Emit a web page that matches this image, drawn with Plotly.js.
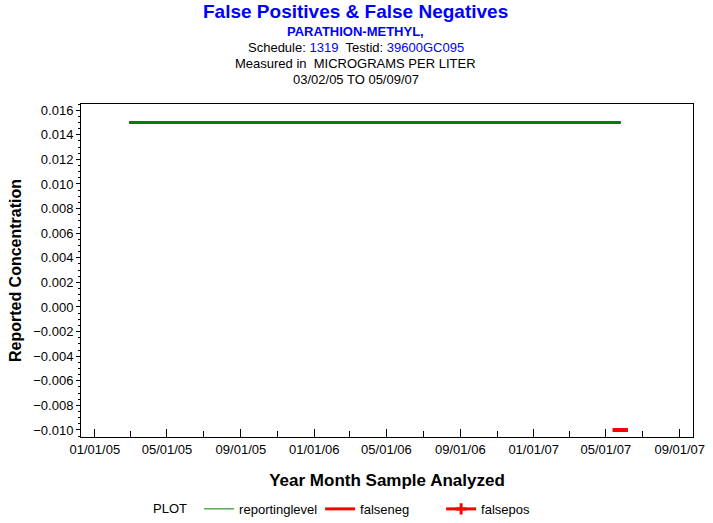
<!DOCTYPE html>
<html><head><meta charset="utf-8">
<script src="https://cdn.plot.ly/plotly-3.0.1.min.js"></script>
<style>html,body{margin:0;padding:0;background:#fff}#chart{width:713px;height:523px}</style>
</head><body><div id="chart"></div>
<script>
// Data
const reportingDates = ["2005-02-27", "2007-05-26"];
const reportingLevel = [0.015, 0.015];
const falseNegDates = ["2007-05-25"];
const falseNegValues = [-0.010];
const falsePosDates = [];
const falsePosValues = [];
const yTickVals = [0.016,0.014,0.012,0.010,0.008,0.006,0.004,0.002,0.000,-0.002,-0.004,-0.006,-0.008,-0.010];
const xTickVals = ["2005-01-01","2005-05-01","2005-09-01","2006-01-01","2006-05-01","2006-09-01","2007-01-01","2007-05-01","2007-09-01"];
const xTickText = ["01/01/05","05/01/05","09/01/05","01/01/06","05/01/06","09/01/06","01/01/07","05/01/07","09/01/07"];

const FONT = "Liberation Sans, Arial, sans-serif";
const traces = [
  {x: reportingDates, y: reportingLevel, mode: "lines", line: {color: "#008000", width: 3}, showlegend: false, hoverinfo: "skip"},
  {x: falseNegDates, y: falseNegValues, mode: "markers", marker: {symbol: "line-ew-open", size: 11, color: "#FF0000", line: {color: "#FF0000", width: 4}}, showlegend: false},
  {x: falsePosDates, y: falsePosValues, mode: "markers", marker: {symbol: "cross-thin-open", size: 8, color: "#FF0000", line: {color: "#FF0000", width: 3}}, showlegend: false},
  // legend entries
  {x: [null], y: [null], mode: "lines", name: "reportinglevel", line: {color: "#008000", width: 1}},
  {x: [null], y: [null], mode: "lines", name: "falseneg", line: {color: "#FF0000", width: 3}},
  {x: [null], y: [null], mode: "lines+markers", name: "falsepos", line: {color: "#FF0000", width: 3}, marker: {symbol: "cross-thin-open", size: 8, color: "#FF0000", line: {color: "#FF0000", width: 3}}}
];

const layout = {
  width: 713, height: 523,
  margin: {l: 81, r: 20, t: 104, b: 86, autoexpand: false},
  paper_bgcolor: "#fff", plot_bgcolor: "#fff",
  font: {family: FONT, color: "#000", size: 13},
  showlegend: true,
  legend: {orientation: "h", x: 0.193, xanchor: "left", y: -0.216, yanchor: "middle", entrywidth: 76, font: {family: FONT, size: 13, color: "#000"}, itemwidth: 30, tracegroupgap: 0, bgcolor: "rgba(0,0,0,0)"},
  xaxis: {
    type: "date", range: ["2004-12-09", "2007-09-23"],
    tickvals: xTickVals, ticktext: xTickText,
    ticks: "inside", ticklen: 8, tickwidth: 1, tickcolor: "#000",
    minor: {dtick: "M2", tick0: "2005-01-01", ticks: "inside", ticklen: 6, tickcolor: "#000", showgrid: false},
    showline: true, mirror: true, linecolor: "#000", linewidth: 1,
    showgrid: false, zeroline: false,
    tickfont: {family: FONT, size: 13, color: "#000"},
    title: {text: "<b>Year Month Sample Analyzed</b>", font: {family: FONT, size: 17, color: "#000"}, standoff: 18}
  },
  yaxis: {
    range: [-0.01057, 0.0165],
    tickvals: yTickVals, tickformat: ".3f",
    ticks: "outside", ticklen: 4, tickwidth: 1, tickcolor: "#000",
    minor: {dtick: 0.0005, tick0: 0, ticks: "outside", ticklen: 2, tickcolor: "#000", showgrid: false},
    showline: true, mirror: true, linecolor: "#000", linewidth: 1,
    showgrid: false, zeroline: false,
    tickfont: {family: FONT, size: 13, color: "#000"},
    title: {text: "<b>Reported Concentration</b>", font: {family: FONT, size: 16, color: "#000"}, standoff: 7}
  },
  annotations: [
    {text: "<b>False Positives &amp; False Negatives</b>", xref: "paper", yref: "paper", x: 0.449, y: 1, yshift: 93, showarrow: false, font: {family: FONT, size: 19, color: "#0000FF"}, xanchor: "center", yanchor: "middle"},
    {text: "<b>PARATHION-METHYL,</b>", xref: "paper", yref: "paper", x: 0.449, y: 1, yshift: 73, showarrow: false, font: {family: FONT, size: 13, color: "#0000FF"}, xanchor: "center", yanchor: "middle"},
    {text: "Schedule: <span style='color:#0000FF'>1319</span>&nbsp;&nbsp;Testid: <span style='color:#0000FF'>39600GC095</span>", xref: "paper", yref: "paper", x: 0.449, y: 1, yshift: 57, showarrow: false, font: {family: FONT, size: 13, color: "#000"}, xanchor: "center", yanchor: "middle"},
    {text: "Measured in&nbsp;&nbsp;MICROGRAMS PER LITER", xref: "paper", yref: "paper", x: 0.449, y: 1, yshift: 41, showarrow: false, font: {family: FONT, size: 13, color: "#000"}, xanchor: "center", yanchor: "middle"},
    {text: "03/02/05 TO 05/09/07", xref: "paper", yref: "paper", x: 0.449, y: 1, yshift: 25, showarrow: false, font: {family: FONT, size: 13, color: "#000"}, xanchor: "center", yanchor: "middle"},
    {text: "PLOT", xref: "paper", yref: "paper", x: 0.115, y: -0.216, showarrow: false, font: {family: FONT, size: 13, color: "#000"}, xanchor: "left", yanchor: "middle"}
  ]
};
Plotly.newPlot("chart", traces, layout, {displayModeBar: false, staticPlot: true});
</script></body></html>
